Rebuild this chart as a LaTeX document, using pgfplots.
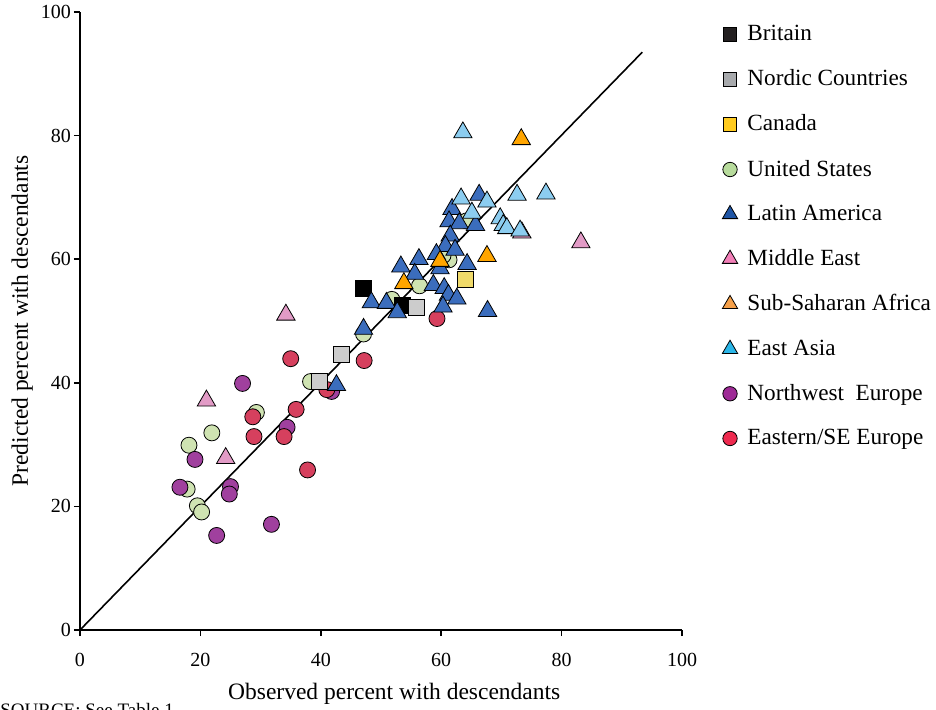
\documentclass[border=0pt]{standalone}
\usepackage{pgfplots}
\pgfplotsset{compat=1.18}
\usepackage{fontspec}
\setmainfont{Liberation Serif}
% plot colours
\definecolor{cBrit}{HTML}{000000}
\definecolor{cNord}{HTML}{CCCCCC}
\definecolor{cCan}{HTML}{F0DA6A}
\definecolor{cUS}{HTML}{CFE3B2}
\definecolor{cLat}{HTML}{3B6DBD}
\definecolor{cMid}{HTML}{E29BC6}
\definecolor{cSSA}{HTML}{FFA500}
\definecolor{cEA}{HTML}{8CCDF0}
\definecolor{cNW}{HTML}{A0409E}
\definecolor{cEE}{HTML}{D6405E}
% legend colours
\definecolor{lBrit}{HTML}{231F20}
\definecolor{lNord}{HTML}{A7A9AC}
\definecolor{lCan}{HTML}{FFCB1F}
\definecolor{lUS}{HTML}{B7DB9C}
\definecolor{lLat}{HTML}{1F55A5}
\definecolor{lMid}{HTML}{F27FB8}
\definecolor{lSSA}{HTML}{F5A04A}
\definecolor{lEA}{HTML}{2BB6E8}
\definecolor{lNW}{HTML}{9E2A96}
\definecolor{lEE}{HTML}{EE2A4F}
\begin{document}
\begin{tikzpicture}
\begin{axis}[
  at={(0,0)}, anchor=origin,
  scale only axis, width=301pt, height=309pt,
  xmin=0, xmax=100, ymin=0, ymax=100,
  axis lines=left, axis line style={-, line width=0.75pt},
  xtick={0,20,...,100}, ytick={0,20,...,100},
  tick align=outside, major tick length=3pt,
  tick style={line width=0.75pt, black},
  /pgf/number format/assume math mode=true,
  tick label style={font=\fontsize{10}{12}\selectfont},
  xticklabel style={yshift=-5pt},
  yticklabel style={xshift=2pt},
  clip=false,
  xlabel={Observed percent with descendants},
  ylabel={Predicted percent with descendants},
  label style={font=\fontsize{11.75}{14}\selectfont},
  xlabel style={at={(axis description cs:0.522,0)}, anchor=north, yshift=-23pt},
  ylabel style={at={(axis description cs:0,0.5)}, anchor=south, yshift=20pt},
  legend style={draw=none, fill=none, at={(axis description cs:1,1)}, anchor=north west,
    xshift=17pt, yshift=-2.5pt, font=\fontsize{11.6}{13.5}\selectfont,
    row sep=9pt, cells={anchor=west}},
  legend image code/.code={\draw[mark repeat=2,mark phase=2,#1] plot coordinates {(0cm,0cm) (0.2cm,0cm) (0.4cm,0cm)};
    \path (0.2cm-3.4pt,0pt) (0.2cm+6.5pt,0pt);},
  every axis plot/.append style={mark options={line width=0.75pt, draw=black}},
]
% legend images
\addlegendimage{only marks, mark=square*, mark size=3.4pt, mark options={fill=lBrit, draw=black}}
\addlegendentry{Britain}
\addlegendimage{only marks, mark=square*, mark size=3.4pt, mark options={fill=lNord, draw=black}}
\addlegendentry{Nordic Countries}
\addlegendimage{only marks, mark=square*, mark size=3.4pt, mark options={fill=lCan, draw=black}}
\addlegendentry{Canada}
\addlegendimage{only marks, mark=*, mark size=3.6pt, mark options={fill=lUS, draw=black}}
\addlegendentry{United States}
\addlegendimage{only marks, mark=triangle*, mark size=4.4pt, mark options={fill=lLat, draw=black}}
\addlegendentry{Latin America}
\addlegendimage{only marks, mark=triangle*, mark size=4.4pt, mark options={fill=lMid, draw=black}}
\addlegendentry{Middle East}
\addlegendimage{only marks, mark=triangle*, mark size=4.4pt, mark options={fill=lSSA, draw=black}}
\addlegendentry{Sub-Saharan Africa}
\addlegendimage{only marks, mark=triangle*, mark size=4.4pt, mark options={fill=lEA, draw=black}}
\addlegendentry{East Asia}
\addlegendimage{only marks, mark=*, mark size=3.6pt, mark options={fill=lNW, draw=black}}
\addlegendentry{Northwest\ \ Europe}
\addlegendimage{only marks, mark=*, mark size=3.6pt, mark options={fill=lEE, draw=black}}
\addlegendentry{Eastern/SE Europe}
% diagonal
\addplot[black, line width=0.8pt, forget plot] coordinates {(0,0) (93.4,93.5)};
% United States
\addplot[only marks, mark=*, mark size=4pt, mark options={fill=cUS}, forget plot] coordinates {
(18.1,29.9) (21.9,31.9) (29.3,35.2) (17.8,22.8) (19.5,20.1) (20.2,19.1)
(38.3,40.2) (47.1,47.9) (51.8,53.5) (56.4,55.7) (61.3,59.9) (60.3,60.6) (64.2,66.2)};
% Northwest Europe
\addplot[only marks, mark=*, mark size=4pt, mark options={fill=cNW}, forget plot] coordinates {
(27.0,39.9) (34.4,32.8) (19.1,27.6) (16.6,23.1) (25.0,23.2) (24.8,22.0)
(31.8,17.1) (22.7,15.3) (41.8,38.6)};
% Eastern/SE Europe
\addplot[only marks, mark=*, mark size=4pt, mark options={fill=cEE}, forget plot] coordinates {
(35.0,43.9) (47.2,43.6) (41.0,38.9) (35.9,35.7) (28.7,34.5) (28.9,31.3)
(33.9,31.3) (37.8,25.9) (59.3,50.4)};
% Britain
\addplot[only marks, mark=square*, mark size=4pt, mark options={fill=cBrit}, forget plot] coordinates {
(47.0,55.2) (53.6,52.6)};
% Nordic
\addplot[only marks, mark=square*, mark size=4pt, mark options={fill=cNord}, forget plot] coordinates {
(55.8,52.2) (43.5,44.6) (39.8,40.2)};
% Canada
\addplot[only marks, mark=square*, mark size=4pt, mark options={fill=cCan}, forget plot] coordinates {
(64.1,56.7)};
% Latin America
\addplot[only marks, mark=triangle*, mark size=5.3pt, mark options={fill=cLat}, forget plot] coordinates {
(66.3,70.4) (61.8,68.1) (61.3,66.1) (63.0,65.8) (65.7,65.5) (61.5,63.8)
(60.7,62.1) (62.3,61.5) (59.2,60.8) (56.3,60.0) (53.3,58.8) (59.8,58.5)
(64.3,59.2) (55.6,57.6) (58.7,55.8) (60.5,55.3) (61.2,54.2) (62.6,53.6)
(60.3,52.3) (67.7,51.6) (48.4,53.0) (50.9,52.9) (52.7,51.4) (47.1,48.7)
(42.6,39.6)};
% Sub-Saharan Africa
\addplot[only marks, mark=triangle*, mark size=5.3pt, mark options={fill=cSSA}, forget plot] coordinates {
(73.3,79.4) (59.8,59.7) (67.6,60.5) (53.8,56.1)};
% Middle East
\addplot[only marks, mark=triangle*, mark size=5.3pt, mark options={fill=cMid}, forget plot] coordinates {
(21.0,37.1) (24.2,27.8) (34.2,51.0) (83.2,62.7) (73.4,64.3)};
% East Asia
\addplot[only marks, mark=triangle*, mark size=5.3pt, mark options={fill=cEA}, forget plot] coordinates {
(63.6,80.5) (63.3,69.8) (67.6,69.3) (65.1,67.5) (72.6,70.4) (77.4,70.6)
(69.8,66.6) (70.3,65.5) (70.9,65.0) (73.1,64.6)};
\end{axis}
\node[anchor=north west, inner sep=0pt, font=\fontsize{9.5}{11}\selectfont] at (-40pt,-36.5pt) {SOURCE: See Table 1.};
\pgfresetboundingbox
\useasboundingbox (-40pt,-39.5pt) rectangle (428pt,315pt);
\end{tikzpicture}
\end{document}
